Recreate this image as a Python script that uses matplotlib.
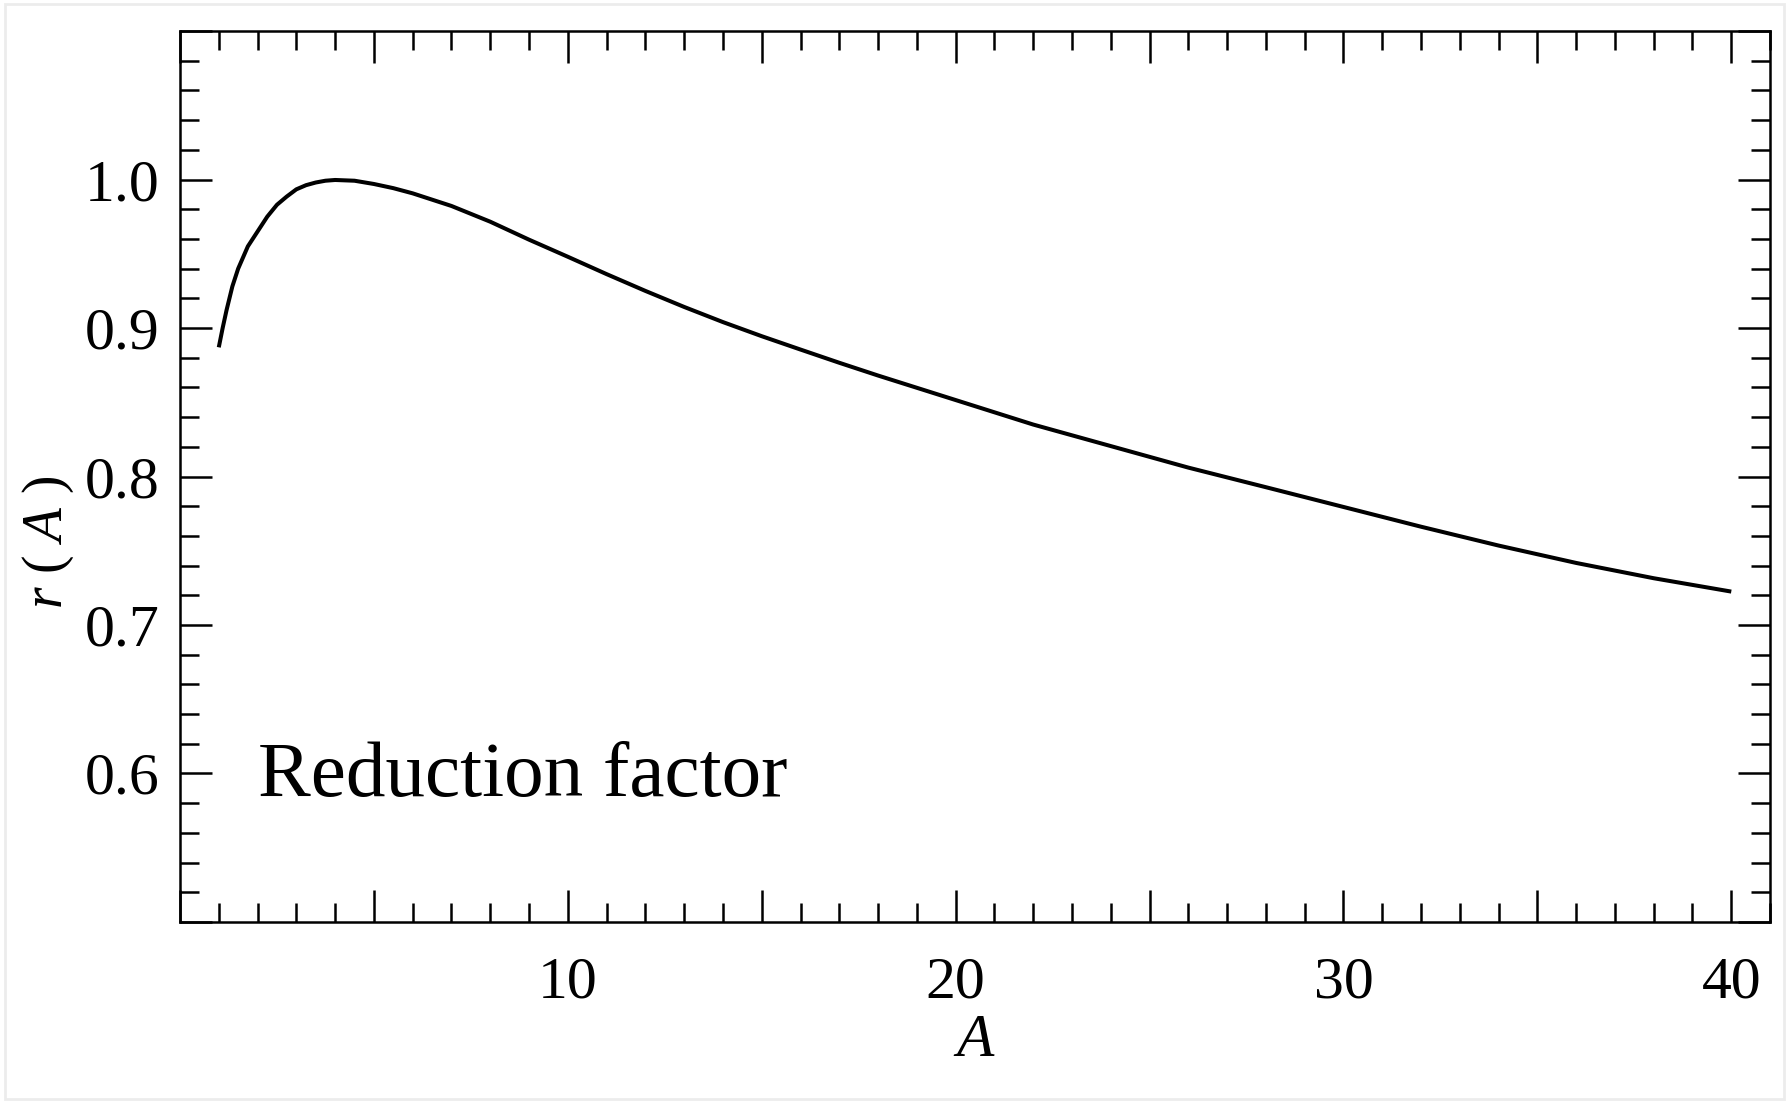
import matplotlib
matplotlib.use("Agg")
import matplotlib.pyplot as plt
from matplotlib.ticker import MultipleLocator, FuncFormatter
from matplotlib.patches import Rectangle

plt.rcParams['font.family'] = ['Liberation Serif', 'DejaVu Serif']
plt.rcParams['mathtext.fontset'] = 'custom'
plt.rcParams['mathtext.rm'] = 'Liberation Serif'
plt.rcParams['mathtext.it'] = 'Liberation Serif:italic'

# values
A_vals = [1, 1.1, 1.2, 1.35, 1.5, 1.75, 2, 2.25, 2.5, 2.75, 3, 3.25, 3.5, 3.75,
          4, 4.5, 5, 5.5, 6, 7, 8, 9, 10, 11, 12, 13, 14, 15, 16, 17, 18, 20,
          22, 24, 26, 28, 30, 32, 34, 36, 38, 40]
r_vals = [0.887, 0.900, 0.912, 0.928, 0.940, 0.955, 0.965, 0.975, 0.983,
          0.9885, 0.9934, 0.9962, 0.998, 0.9992, 0.9997, 0.9992, 0.997,
          0.9942, 0.9907, 0.9822, 0.9716, 0.9595, 0.948, 0.9363, 0.925,
          0.9142, 0.904, 0.8945, 0.8855, 0.8766, 0.868, 0.8515, 0.835,
          0.8205, 0.806, 0.7928, 0.7795, 0.7662, 0.7535, 0.7418, 0.7315,
          0.7225]

label_text = "Reduction factor"

fig = plt.figure(figsize=(17.91, 11.01), dpi=100)
ax = fig.add_axes([0.1005, 0.1626, 0.8878, 0.8092])

ax.plot(A_vals, r_vals, color='black', lw=2.9, solid_capstyle='butt',
        solid_joinstyle='round')

ax.set_xlim(0, 41)
ax.set_ylim(0.5, 1.1)

ax.xaxis.set_major_locator(MultipleLocator(5))
ax.xaxis.set_minor_locator(MultipleLocator(1))
ax.yaxis.set_major_locator(MultipleLocator(0.1))
ax.yaxis.set_minor_locator(MultipleLocator(0.02))

ax.xaxis.set_major_formatter(FuncFormatter(
    lambda v, p: f"{int(round(v))}" if round(v) % 10 == 0 and v > 0.5 else ""))
ax.yaxis.set_major_formatter(FuncFormatter(
    lambda v, p: f"{v:.1f}" if 0.55 < v < 1.05 else ""))

ax.tick_params(which='both', direction='in', top=True, right=True,
               width=1.8, color='black')
ax.tick_params(which='major', length=23)
ax.tick_params(which='minor', length=14)
ax.tick_params(axis='x', which='major', labelsize=43, pad=25)
ax.tick_params(axis='y', which='major', labelsize=43, pad=15)
for s in ax.spines.values():
    s.set_linewidth(1.8)

ax.set_xlabel("A", fontsize=44, style='italic', labelpad=2)
ax.set_ylabel(r"$r$ ( $A$ )", fontsize=40, va='center')
ax.yaxis.set_label_coords(-0.083, 0.426)

ax.text(2.0, 0.585, label_text, fontsize=57, ha='left', va='baseline')

fig.patches.append(Rectangle((0.003, 0.002), 0.993, 0.994, transform=fig.transFigure,
                             fill=False, edgecolor='#ececec', lw=2))

fig.savefig("out.png", dpi=100)
